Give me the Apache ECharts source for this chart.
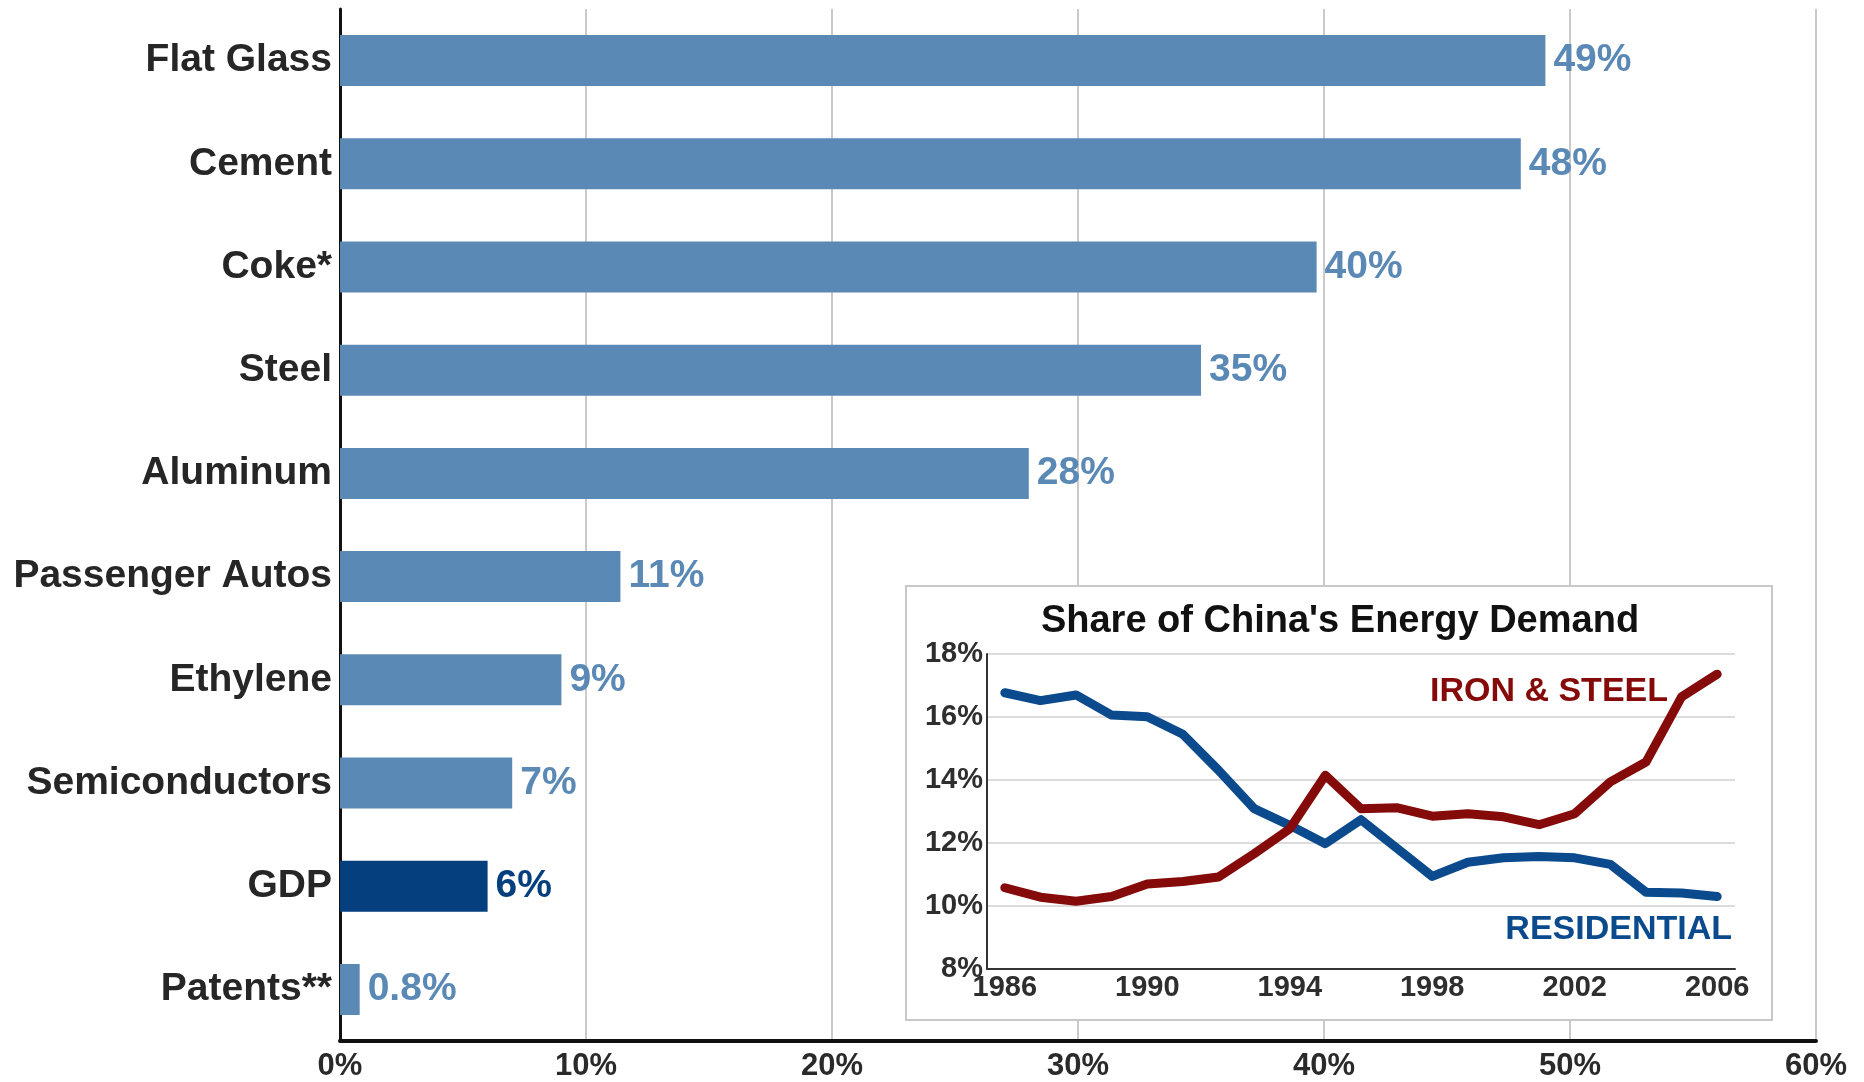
<!DOCTYPE html>
<html>
<head>
<meta charset="utf-8">
<script src="https://cdn.jsdelivr.net/npm/echarts@6/dist/echarts.min.js"></script>
<style>
html,body{margin:0;padding:0;background:#fff;}
#chart{width:1864px;height:1082px;}
</style>
</head>
<body>
<div id="chart"></div>
<script>
// Main bar chart data
const categories = ['Flat Glass','Cement','Coke*','Steel','Aluminum','Passenger Autos','Ethylene','Semiconductors','GDP','Patents**'];
const barValues = [49, 48, 39.7, 35, 28, 11.4, 9, 7, 6, 0.8];
const barLabels = ['49%','48%','40%','35%','28%','11%','9%','7%','6%','0.8%'];
const highlightCategory = 'GDP';
const xTicks = [0, 10, 20, 30, 40, 50, 60];

// Inset line chart data
const years = ['1986','1987','1988','1989','1990','1991','1992','1993','1994','1995','1996','1997','1998','1999','2000','2001','2002','2003','2004','2005','2006'];
const residential = [16.77,16.52,16.70,16.06,16.01,15.45,14.31,13.09,12.56,11.98,12.74,11.84,10.94,11.39,11.53,11.57,11.53,11.32,10.44,10.41,10.30];
const ironSteel = [10.58,10.28,10.15,10.30,10.70,10.78,10.92,11.66,12.45,14.15,13.09,13.12,12.85,12.93,12.83,12.58,12.93,13.94,14.57,16.64,17.36];
const insetTitle = "Share of China's Energy Demand";
const seriesNames = ['IRON & STEEL', 'RESIDENTIAL'];

const FONT = "'Liberation Sans', Arial, Helvetica, sans-serif";
const LIGHT = '#5b89b6';
const DARK = '#053f7e';
const RED = '#850a0a';
const BLUE = '#0b4a8c';

const chart = echarts.init(document.getElementById('chart'), null, {renderer: 'canvas'});

const barData = barValues.map((v, i) => ({
  value: v,
  itemStyle: {color: categories[i] === highlightCategory ? DARK : LIGHT},
  label: {color: categories[i] === highlightCategory ? DARK : LIGHT}
}));

const option = {
  backgroundColor: '#fff',
  animation: false,
  grid: [
    {left: 340, right: 48, top: 9, bottom: 34, containLabel: false},
    {left: 987, right: 129, top: 654, bottom: 113, containLabel: false}
  ],
  xAxis: [
    {
      type: 'value', gridIndex: 0, min: xTicks[0], max: xTicks[xTicks.length - 1], interval: 10, z: 0,
      axisLine: {show: true, lineStyle: {color: '#111', width: 4}},
      axisTick: {show: false},
      splitLine: {show: true, lineStyle: {color: '#cacaca', width: 2}},
      axisLabel: {formatter: '{value}%', fontFamily: FONT, fontWeight: 'bold', fontSize: 31, color: '#2a2a2a', margin: 10}
    },
    {
      type: 'category', gridIndex: 1, data: years, boundaryGap: true, z: 5,
      axisLine: {show: true, lineStyle: {color: '#333', width: 2}},
      axisTick: {show: false},
      splitLine: {show: false},
      axisLabel: {interval: 3, fontFamily: FONT, fontWeight: 'bold', fontSize: 29, color: '#2e2e2e', margin: 4}
    }
  ],
  yAxis: [
    {
      type: 'category', gridIndex: 0, data: categories, inverse: true, z: 0,
      axisLine: {show: true, lineStyle: {color: '#111', width: 3}},
      axisTick: {show: false},
      splitLine: {show: false},
      axisLabel: {fontFamily: FONT, fontWeight: 'bold', fontSize: 39, color: '#262626', margin: 8, padding: [5, 0, 0, 0]}
    },
    {
      type: 'value', gridIndex: 1, min: 8, max: 18, interval: 2, z: 5,
      axisLine: {show: true, lineStyle: {color: '#333', width: 2}},
      axisTick: {show: false},
      splitLine: {show: true, lineStyle: {color: '#dcdcdc', width: 2}},
      axisLabel: {formatter: '{value}%', fontFamily: FONT, fontWeight: 'bold', fontSize: 29, color: '#2e2e2e', margin: 4}
    }
  ],
  series: [
    {
      type: 'bar', xAxisIndex: 0, yAxisIndex: 0, data: barData, barWidth: 51, z: 2,
      label: {
        show: true, position: 'right', distance: 8, padding: [5, 0, 0, 0],
        fontFamily: FONT, fontWeight: 'bold', fontSize: 39,
        formatter: p => barLabels[p.dataIndex]
      }
    },
    {
      name: seriesNames[1], type: 'line', xAxisIndex: 1, yAxisIndex: 1, data: residential, z: 6,
      symbol: 'none', smooth: false,
      lineStyle: {color: BLUE, width: 9, cap: 'round', join: 'round'}
    },
    {
      name: seriesNames[0], type: 'line', xAxisIndex: 1, yAxisIndex: 1, data: ironSteel, z: 7,
      symbol: 'none', smooth: false,
      lineStyle: {color: RED, width: 9, cap: 'round', join: 'round'}
    }
  ],
  graphic: {
    elements: [
      {
        type: 'rect', z: 1, silent: true,
        shape: {x: 906, y: 586, width: 866, height: 434},
        style: {fill: '#fff', stroke: '#c8c8c8', lineWidth: 2}
      },
      {
        type: 'text', z: 10, silent: true,
        style: {x: 1340, y: 622, text: insetTitle, fill: '#111', font: 'bold 38px ' + FONT, textAlign: 'center', textVerticalAlign: 'middle'}
      },
      {
        type: 'text', z: 10, silent: true,
        style: {x: 1668, y: 692, text: seriesNames[0], fill: RED, font: 'bold 34px ' + FONT, textAlign: 'right', textVerticalAlign: 'middle'}
      },
      {
        type: 'text', z: 10, silent: true,
        style: {x: 1732, y: 930, text: seriesNames[1], fill: BLUE, font: 'bold 34px ' + FONT, textAlign: 'right', textVerticalAlign: 'middle'}
      }
    ]
  }
};

chart.setOption(option);
</script>
</body>
</html>
